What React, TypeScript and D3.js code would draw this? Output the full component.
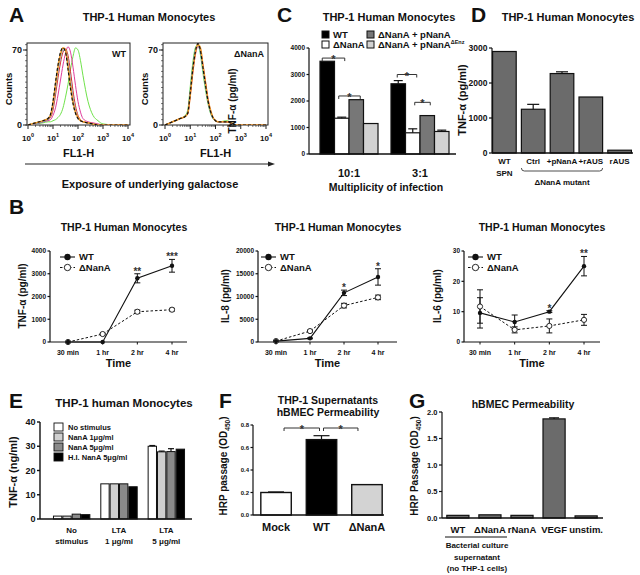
import React from "react";
import * as d3 from "d3";

const FONT = "'Liberation Sans', Arial, Helvetica, sans-serif";

// ---------- Panel A: flow histograms ----------
const histLogX = [0, 0.3, 0.6, 0.8, 0.9, 1.0, 1.1, 1.2, 1.3, 1.4, 1.5, 1.6, 1.7, 1.8, 1.9, 2.0, 2.1, 2.2, 2.4, 2.6, 2.8, 3.0, 3.5, 4.0];
const wtHistBlack = [0, 2, 4, 6, 10, 22, 40, 56, 68, 72, 68, 52, 34, 20, 11, 6, 4, 3, 2, 1, 0, 0, 0, 0];
const wtHistOrange = [0, 2, 4, 6, 9, 20, 37, 54, 66, 72, 70, 55, 37, 22, 12, 7, 4, 3, 2, 1, 0, 0, 0, 0];
const wtHistBlue = [0, 1, 3, 5, 8, 17, 33, 50, 63, 70, 70, 60, 42, 26, 14, 7, 4, 3, 2, 1, 0, 0, 0, 0];
const wtHistRed = [0, 1, 3, 5, 7, 14, 28, 44, 58, 68, 71, 65, 50, 32, 18, 9, 5, 3, 2, 1, 0, 0, 0, 0];
const wtHistMagenta = [0, 1, 3, 4, 5, 9, 16, 28, 42, 56, 67, 73, 68, 54, 37, 22, 12, 6, 3, 2, 1, 0, 0, 0];
const wtHistGreen = [0, 1, 2, 3, 3, 4, 5, 7, 10, 16, 26, 38, 52, 64, 72, 70, 60, 46, 22, 9, 4, 1, 0, 0];
const dnHistBlack = [0, 3, 6, 8, 11, 30, 52, 68, 76, 70, 54, 38, 23, 13, 7, 4, 3, 3, 3, 2, 0, 0, 0, 0];
const dnHistOrange = [0, 3, 6, 8, 11, 28, 50, 67, 75, 72, 56, 40, 24, 14, 7, 4, 3, 3, 3, 2, 0, 0, 0, 0];
const dnHistBlue = [0, 3, 6, 8, 12, 32, 54, 70, 74, 68, 52, 36, 22, 12, 6, 4, 3, 3, 3, 2, 0, 0, 0, 0];
const dnHistRed = [0, 3, 6, 8, 11, 29, 51, 68, 74, 70, 55, 39, 23, 13, 7, 4, 3, 3, 3, 2, 0, 0, 0, 0];
const dnHistMagenta = [0, 3, 6, 8, 10, 27, 48, 65, 73, 71, 57, 41, 25, 14, 7, 4, 3, 3, 3, 2, 0, 0, 0, 0];
const dnHistGreen = [0, 3, 6, 9, 14, 36, 58, 72, 75, 66, 49, 33, 20, 11, 6, 4, 3, 3, 4, 3, 0, 0, 0, 0];
const histDecades = [0, 1, 2, 3, 4];

// ---------- Panel C ----------
const cGroups = ["10:1", "3:1"];
const cSeries = ["WT", "ΔNanA", "ΔNanA + pNanA", "ΔNanA + pNanAΔEnz"];
const cWT = [3500, 2650];
const cWTErr = [0, 120];
const cDelta = [1350, 800];
const cDeltaErr = [40, 150];
const cPNanA = [2050, 1450];
const cPNanAErr = [0, 0];
const cEnz = [1150, 850];
const cEnzErr = [0, 50];
const cTicks = [0, 1000, 2000, 3000, 4000];

// ---------- Panel D ----------
const dCats = ["WT SPN", "Ctrl", "+pNanA", "+rAUS", "rAUS"];
const dVals = [2900, 1250, 2270, 1600, 80];
const dErr = [0, 140, 50, 0, 0];
const dTicks = [0, 1000, 2000, 3000];

// ---------- Panel B ----------
const times = ["30 min", "1 hr", "2 hr", "4 hr"];
const tnfWT = [0, 0, 2800, 3350];
const tnfWTErr = [0, 0, 200, 280];
const tnfDelta = [0, 350, 1330, 1420];
const tnfDeltaErr = [0, 30, 70, 60];
const tnfStars = ["", "", "**", "***"];
const il8WT = [200, 800, 10800, 14300];
const il8WTErr = [100, 100, 600, 1800];
const il8Delta = [200, 2400, 8000, 9800];
const il8DeltaErr = [100, 200, 500, 500];
const il8Stars = ["", "", "*", "*"];
const il6WT = [9.6, 6.6, 10, 25];
const il6WTErr = [5, 2.3, 0.3, 3.2];
const il6Delta = [11.7, 4.0, 5.3, 7.3];
const il6DeltaErr = [5.5, 1.0, 2.3, 1.8];
const il6Stars = ["", "", "*", "**"];

// ---------- Panel E ----------
const eGroups = [["No", "stimulus"], ["LTA", "1 μg/ml"], ["LTA", "5 μg/ml"]];
const eSeries = ["No stimulus", "NanA 1μg/ml", "NanA 5μg/ml", "H.I. NanA 5μg/ml"];
const eNone = [1.2, 14.5, 30.0];
const eNoneErr = [0, 0, 0.3];
const eNanA1 = [1.2, 14.5, 27.7];
const eNanA1Err = [0, 0, 0.3];
const eNanA5 = [2.0, 14.5, 27.8];
const eNanA5Err = [0, 0, 1.2];
const eHI = [1.8, 13.3, 28.8];
const eHIErr = [0, 0, 0];
const eTicks = [0, 10, 20, 30, 40];

// ---------- Panel F ----------
const fCats = ["Mock", "WT", "ΔNanA"];
const fVals = [0.2, 0.67, 0.27];
const fErr = [0.005, 0.035, 0];
const fTicks = [0, 0.2, 0.4, 0.6, 0.8];

// ---------- Panel G ----------
const gCats = ["WT", "ΔNanA", "rNanA", "VEGF", "unstim."];
const gVals = [0.05, 0.06, 0.05, 1.87, 0.04];
const gErr = [0, 0, 0, 0.02, 0];
const gTicks = [0, 0.5, 1.0, 1.5, 2.0];

// ---------- helpers ----------
const T = (p: any) => <text fontFamily={FONT} fontWeight="bold" fill="#111" {...p} />;

const Rot = ({ x, y, fs, children }: any) => (
  <text transform={`translate(${x},${y}) rotate(-90)`} textAnchor="middle" dy="0.35em"
    fontSize={fs} fontWeight="bold" fontFamily={FONT} fill="#111">{children}</text>
);

function YAxis({ scale, x, ticks, fmt, fs, tl = 3, sw = 1.2 }: any) {
  const r = scale.range();
  return (
    <g>
      <line x1={x} x2={x} y1={r[0]} y2={r[1]} stroke="#111" strokeWidth={sw} />
      {ticks.map((t: number) => (
        <g key={t}>
          <line x1={x - tl} x2={x} y1={scale(t)} y2={scale(t)} stroke="#111" strokeWidth={sw} />
          <T x={x - tl - 1.5} y={scale(t)} dy="0.35em" textAnchor="end" fontSize={fs}>{fmt(t)}</T>
        </g>
      ))}
    </g>
  );
}

function ErrUp({ cx, y0, y1, w }: any) {
  if (Math.abs(y0 - y1) < 0.5) return null;
  return (
    <g stroke="#111" strokeWidth={1.2}>
      <line x1={cx} x2={cx} y1={y0} y2={y1} />
      <line x1={cx - w / 2} x2={cx + w / 2} y1={y1} y2={y1} />
    </g>
  );
}

function Bracket({ xa, xb, y, star = "*" }: any) {
  return (
    <g>
      <path d={`M${xa},${y + 3}V${y}H${xb}V${y + 3}`} fill="none" stroke="#333" strokeWidth={1} />
      <T x={(xa + xb) / 2} y={y + 5} textAnchor="middle" fontSize={11} fill="#333">{star}</T>
    </g>
  );
}

// ---------- Panel A ----------
function Histogram({ boxL, boxR, x0, x1, curves, tag }: any) {
  const top = 43, bottom = 125;
  const x = d3.scaleLinear().domain([0, 4]).range([x0, x1]);
  const y = d3.scaleLinear().domain([0, 70]).range([bottom, 50]);
  const line = d3.line<number>().x((_, i) => x(histLogX[i])).y((d) => y(d)).curve(d3.curveMonotoneX);
  const id = `clip${boxL}`;
  const minorX: number[] = [];
  histDecades.slice(0, 4).forEach((dec) => d3.range(2, 10).forEach((k) => minorX.push(dec + Math.log10(k))));
  const minorY = d3.range(0, 76, 5);
  return (
    <g>
      <clipPath id={id}><rect x={boxL} y={top} width={boxR - boxL} height={bottom - top} /></clipPath>
      <rect x={boxL} y={top} width={boxR - boxL} height={bottom - top} fill="none" stroke="#222" strokeWidth={1} />
      <g clipPath={`url(#${id})`}>
        {curves.map((c: any, i: number) => (
          <path key={i} d={line(c.counts) || ""} fill="none" stroke={c.color} strokeWidth={c.w || 1}
            strokeDasharray={c.dash || null} />
        ))}
      </g>
      {minorY.map((v) => (
        <line key={v} x1={boxL - 2} x2={boxL} y1={y(v)} y2={y(v)} stroke="#222" strokeWidth={0.6} />
      ))}
      <line x1={boxL - 4} x2={boxL} y1={y(70)} y2={y(70)} stroke="#222" />
      <line x1={boxL - 4} x2={boxL} y1={y(0)} y2={y(0)} stroke="#222" />
      {minorX.map((v, i) => (
        <line key={i} x1={x(v)} x2={x(v)} y1={bottom} y2={bottom + 2} stroke="#222" strokeWidth={0.6} />
      ))}
      {histDecades.map((d) => (
        <g key={d}>
          <line x1={x(d)} x2={x(d)} y1={bottom} y2={bottom + 4} stroke="#222" />
          <T x={x(d)} y={141} textAnchor="middle" fontSize={8}>10<tspan fontSize={5.5} dy={-4}>{d}</tspan></T>
        </g>
      ))}
      <T x={boxL - 5} y={y(70)} dy="0.35em" textAnchor="end" fontSize={9}>70</T>
      <T x={boxL - 5} y={y(0)} dy="0.35em" textAnchor="end" fontSize={9}>0</T>
      <Rot x={boxL - 18} y={89} fs={9.5}>Counts</Rot>
      <T x={(boxL + boxR) / 2} y={157} textAnchor="middle" fontSize={11}>FL1-H</T>
      <T x={boxR - 4} y={57} textAnchor="end" fontSize={9}>{tag}</T>
    </g>
  );
}

const histColors = { black: "#111", orange: "#f09a28", blue: "#5fa8e0", red: "#d62b2b", magenta: "#e03c9c", green: "#6fe24a" };
const mkCurves = (bk: number[], or: number[], bl: number[], rd: number[], mg: number[], gr: number[]) => [
  { counts: gr, color: histColors.green },
  { counts: mg, color: histColors.magenta },
  { counts: rd, color: histColors.red },
  { counts: bl, color: histColors.blue },
  { counts: or, color: histColors.orange, w: 1.6 },
  { counts: bk, color: histColors.black, dash: "3,2", w: 1.2 },
];

function PanelA() {
  return (
    <g>
      <T x={9} y={22} fontSize={21}>A</T>
      <T x={149} y={21} textAnchor="middle" fontSize={11}>THP-1 Human Monocytes</T>
      <Histogram boxL={27} boxR={130} x0={28} x1={128} tag="WT"
        curves={mkCurves(wtHistBlack, wtHistOrange, wtHistBlue, wtHistRed, wtHistMagenta, wtHistGreen)} />
      <Histogram boxL={163} boxR={268} x0={165} x1={266} tag="ΔNanA"
        curves={mkCurves(dnHistBlack, dnHistOrange, dnHistBlue, dnHistRed, dnHistMagenta, dnHistGreen)} />
      <line x1={25} x2={269} y1={164} y2={164} stroke="#222" strokeWidth={1} />
      <polygon points="268,161.5 275,164 268,166.5" fill="#222" />
      <T x={150} y={188} textAnchor="middle" fontSize={11}>Exposure of underlying galactose</T>
    </g>
  );
}

// ---------- Panel C ----------
function PanelC() {
  const y = d3.scaleLinear().domain([0, 4000]).range([154, 48]);
  const gx = d3.scaleBand().domain(cGroups).range([313.5, 455.5]).paddingInner(0.183).paddingOuter(0.0915);
  const sx = d3.scaleBand().domain(cSeries).range([0, gx.bandwidth()]);
  const fills = ["#000", "#fff", "#777", "#d2d2d2"];
  const vals = [cWT, cDelta, cPNanA, cEnz];
  const errs = [cWTErr, cDeltaErr, cPNanAErr, cEnzErr];
  const cx = (g: number, s: number) => (gx(cGroups[g]) as number) + (sx(cSeries[s]) as number) + sx.bandwidth() / 2;
  return (
    <g>
      <T x={277} y={22} fontSize={21}>C</T>
      <T x={389} y={21} textAnchor="middle" fontSize={11}>THP-1 Human Monocytes</T>
      {cSeries.map((s, i) => {
        const lx = i === 0 || i === 1 ? 322 : 367;
        const ly = i === 0 || i === 2 ? 31 : 41;
        return (
          <g key={s}>
            <rect x={lx} y={ly} width={7} height={7} fill={fills[i]} stroke="#111" strokeWidth={1} />
            {i === 3 ? (
              <T x={lx + 11} y={ly + 7} fontSize={9.5}>ΔNanA + pNanA<tspan fontSize={5.5} dy={-4}>ΔEnz</tspan></T>
            ) : (
              <T x={lx + 11} y={ly + 7} fontSize={9.5}>{s}</T>
            )}
          </g>
        );
      })}
      {cGroups.map((g, gi) =>
        cSeries.map((s, si) => {
          const x0 = (gx(g) as number) + (sx(s) as number);
          const v = vals[si][gi];
          return (
            <g key={g + s}>
              <rect x={x0} y={y(v)} width={sx.bandwidth()} height={y(0) - y(v)} fill={fills[si]} stroke="#111" strokeWidth={1.2} />
              <ErrUp cx={x0 + sx.bandwidth() / 2} y0={y(v)} y1={y(v + errs[si][gi])} w={9} />
            </g>
          );
        })
      )}
      <YAxis scale={y} x={309} ticks={cTicks} fmt={(t: number) => String(t)} fs={6.5} tl={2.5} />
      <line x1={309} x2={456} y1={154} y2={154} stroke="#111" strokeWidth={1.4} />
      <Bracket xa={cx(0, 0) - 5} xb={cx(0, 1) + 3} y={y(3620)} />
      <Bracket xa={cx(0, 1) - 3} xb={cx(0, 2) + 4} y={y(2190)} />
      <Bracket xa={cx(1, 0) - 1} xb={cx(1, 1) + 4} y={y(3000)} />
      <Bracket xa={cx(1, 1) + 2} xb={cx(1, 2) + 3} y={y(1950)} />
      {cGroups.map((g) => (
        <T key={g} x={(gx(g) as number) + gx.bandwidth() / 2} y={177} textAnchor="middle" fontSize={11}>{g}</T>
      ))}
      <Rot x={232} y={101} fs={10}>TNF-α (pg/ml)</Rot>
      <T x={386} y={191} textAnchor="middle" fontSize={10.5}>Multiplicity of infection</T>
    </g>
  );
}

// ---------- Panel D ----------
function PanelD() {
  const y = d3.scaleLinear().domain([0, 3000]).range([153, 48]);
  const x = d3.scaleBand().domain(dCats).range([490, 634]).paddingInner(0.18).paddingOuter(0.09);
  const c = (k: string) => (x(k) as number) + x.bandwidth() / 2;
  return (
    <g>
      <T x={471} y={22} fontSize={21}>D</T>
      <T x={568} y={21} textAnchor="middle" fontSize={11}>THP-1 Human Monocytes</T>
      {dCats.map((k, i) => (
        <g key={k}>
          <rect x={x(k)} y={y(dVals[i])} width={x.bandwidth()} height={y(0) - y(dVals[i])} fill="#6b6b6b" stroke="#111" strokeWidth={1.2} />
          <ErrUp cx={c(k)} y0={y(dVals[i])} y1={y(dVals[i] + dErr[i])} w={12} />
        </g>
      ))}
      <YAxis scale={y} x={492} ticks={dTicks} fmt={(t: number) => String(t)} fs={8.5} tl={3} />
      <line x1={492} x2={633} y1={153} y2={153} stroke="#111" strokeWidth={1.4} />
      <T x={c("WT SPN")} y={163.5} textAnchor="middle" fontSize={8}>WT</T>
      <T x={c("WT SPN")} y={176} textAnchor="middle" fontSize={8}>SPN</T>
      {dCats.slice(1).map((k) => (
        <T key={k} x={c(k)} y={163.5} textAnchor="middle" fontSize={8}>{k}</T>
      ))}
      <path d={`M${x("Ctrl")},168 Q${x("Ctrl")},171 ${(x("Ctrl") as number) + 3},171 H${(x("+rAUS") as number) + x.bandwidth() - 3} Q${(x("+rAUS") as number) + x.bandwidth()},171 ${(x("+rAUS") as number) + x.bandwidth()},168`}
        fill="none" stroke="#222" strokeWidth={0.8} />
      <T x={c("+pNanA")} y={185} textAnchor="middle" fontSize={8}>ΔNanA mutant</T>
      <Rot x={462} y={100} fs={11}>TNF-α (pg/ml)</Rot>
    </g>
  );
}

// ---------- Panel B ----------
function LineChart({ axisX, axisEnd, p0, p1, yMax, yTicks, wt, wtErr, dl, dlErr, stars, ylabel, ylabelX, title, titleX, legL }: any) {
  const x = d3.scalePoint().domain(times).range([p0, p1]);
  const y = d3.scaleLinear().domain([0, yMax]).range([342, 251]);
  const line = d3.line<number>().x((_, i) => x(times[i]) as number).y((d) => y(d));
  const errBar = (vals: number[], errs: number[], key: string) =>
    vals.map((v, i) => {
      if (errs[i] <= 0) return null;
      const cx = x(times[i]) as number;
      return (
        <g key={key + i} stroke="#111" strokeWidth={1}>
          <line x1={cx} x2={cx} y1={y(v - errs[i])} y2={y(v + errs[i])} />
          <line x1={cx - 3} x2={cx + 3} y1={y(v + errs[i])} y2={y(v + errs[i])} />
          <line x1={cx - 3} x2={cx + 3} y1={y(v - errs[i])} y2={y(v - errs[i])} />
        </g>
      );
    });
  return (
    <g>
      <T x={titleX} y={231} textAnchor="middle" fontSize={10.5}>{title}</T>
      <YAxis scale={y} x={axisX} ticks={yTicks} fmt={(t: number) => String(t)} fs={6.5} tl={2.5} />
      <line x1={axisX} x2={axisEnd} y1={342} y2={342} stroke="#111" strokeWidth={1.2} />
      {times.map((t) => (
        <g key={t}>
          <line x1={x(t)} x2={x(t)} y1={342} y2={344.5} stroke="#111" />
          <T x={x(t)} y={354.5} textAnchor="middle" fontSize={7}>{t}</T>
        </g>
      ))}
      <T x={(axisX + axisEnd) / 2} y={367} textAnchor="middle" fontSize={11}>Time</T>
      <Rot x={ylabelX} y={296} fs={10}>{ylabel}</Rot>
      {errBar(dl, dlErr, "d")}
      {errBar(wt, wtErr, "w")}
      <path d={line(dl) || ""} fill="none" stroke="#111" strokeWidth={1} strokeDasharray="2.5,2" />
      <path d={line(wt) || ""} fill="none" stroke="#111" strokeWidth={1.1} />
      {dl.map((v: number, i: number) => (
        <circle key={"dc" + i} cx={x(times[i])} cy={y(v)} r={2.6} fill="#fff" stroke="#111" strokeWidth={0.9} />
      ))}
      {wt.map((v: number, i: number) => (
        <circle key={"wc" + i} cx={x(times[i])} cy={y(v)} r={2.2} fill="#111" />
      ))}
      {stars.map((s: string, i: number) =>
        s ? (
          <T key={"s" + i} x={x(times[i])} y={y(wt[i] + wtErr[i]) + 1} textAnchor="middle" fontSize={10} fill="#333">{s}</T>
        ) : null
      )}
      <g>
        <line x1={legL} x2={legL + 15} y1={257} y2={257} stroke="#111" strokeWidth={1.1} />
        <circle cx={legL + 7.5} cy={257} r={3.2} fill="#111" />
        <T x={legL + 19} y={257} dy="0.35em" fontSize={9.5}>WT</T>
        <line x1={legL} x2={legL + 15} y1={267.5} y2={267.5} stroke="#111" strokeWidth={1} strokeDasharray="2.5,2" />
        <circle cx={legL + 7.5} cy={267.5} r={3.2} fill="#fff" stroke="#111" strokeWidth={0.9} />
        <T x={legL + 19} y={267.5} dy="0.35em" fontSize={9.5}>ΔNanA</T>
      </g>
    </g>
  );
}

function PanelB() {
  return (
    <g>
      <T x={9} y={214} fontSize={21}>B</T>
      <LineChart axisX={50} axisEnd={187} p0={68} p1={172} yMax={4000} yTicks={[0, 1000, 2000, 3000, 4000]}
        wt={tnfWT} wtErr={tnfWTErr} dl={tnfDelta} dlErr={tnfDeltaErr} stars={tnfStars}
        ylabel="TNF-α (pg/ml)" ylabelX={22} title="THP-1 Human Monocytes" titleX={124} legL={60} />
      <LineChart axisX={258} axisEnd={397} p0={276} p1={378} yMax={20000} yTicks={[0, 5000, 10000, 15000, 20000]}
        wt={il8WT} wtErr={il8WTErr} dl={il8Delta} dlErr={il8DeltaErr} stars={il8Stars}
        ylabel="IL-8 (pg/ml)" ylabelX={225} title="THP-1 Human Monocytes" titleX={338} legL={261} />
      <LineChart axisX={464} axisEnd={600} p0={480} p1={584} yMax={30} yTicks={[0, 10, 20, 30]}
        wt={il6WT} wtErr={il6WTErr} dl={il6Delta} dlErr={il6DeltaErr} stars={il6Stars}
        ylabel="IL-6 (pg/ml)" ylabelX={437} title="THP-1 Human Monocytes" titleX={542} legL={468} />
    </g>
  );
}

// ---------- Panel E ----------
function PanelE() {
  const y = d3.scaleLinear().domain([0, 40]).range([519, 422]);
  const keys = eGroups.map((g) => g.join(" "));
  const gx = d3.scaleBand().domain(keys).range([48, 190]).paddingInner(0.21).paddingOuter(0.105);
  const sx = d3.scaleBand().domain(eSeries).range([0, gx.bandwidth()]);
  const fills = ["#fff", "#cfcfcf", "#8a8a8a", "#000"];
  const vals = [eNone, eNanA1, eNanA5, eHI];
  const errs = [eNoneErr, eNanA1Err, eNanA5Err, eHIErr];
  return (
    <g>
      <T x={9} y={408} fontSize={21}>E</T>
      <T x={124} y={407} textAnchor="middle" fontSize={11.5}>THP-1 human Monocytes</T>
      {keys.map((k, gi) =>
        eSeries.map((s, si) => {
          const x0 = (gx(k) as number) + (sx(s) as number);
          const v = vals[si][gi];
          return (
            <g key={k + s}>
              <rect x={x0 + 0.5} y={y(v)} width={sx.bandwidth() - 1} height={y(0) - y(v)} fill={fills[si]} stroke="#111" strokeWidth={1} />
              <ErrUp cx={x0 + sx.bandwidth() / 2} y0={y(v)} y1={y(v + errs[si][gi])} w={6} />
            </g>
          );
        })
      )}
      <YAxis scale={y} x={40} ticks={eTicks} fmt={(t: number) => String(t)} fs={9} tl={3} sw={1.4} />
      <line x1={40} x2={192} y1={519} y2={519} stroke="#111" strokeWidth={1.4} />
      {eSeries.map((s, i) => (
        <g key={s}>
          <rect x={54} y={423 + i * 10} width={9} height={8} fill={fills[i]} stroke="#111" strokeWidth={0.9} />
          <T x={68} y={427 + i * 10} dy="0.35em" fontSize={7.5}>{s}</T>
        </g>
      ))}
      {eGroups.map((g, i) => (
        <g key={keys[i]}>
          <T x={(gx(keys[i]) as number) + gx.bandwidth() / 2} y={533} textAnchor="middle" fontSize={8}>{g[0]}</T>
          <T x={(gx(keys[i]) as number) + gx.bandwidth() / 2} y={544} textAnchor="middle" fontSize={8}>{g[1]}</T>
        </g>
      ))}
      <Rot x={13} y={472} fs={11}>TNF-α (ng/ml)</Rot>
    </g>
  );
}

// ---------- Panel F ----------
function PanelF() {
  const y = d3.scaleLinear().domain([0, 0.8]).range([515, 425]);
  const x = d3.scaleBand().domain(fCats).range([254, 389]).paddingInner(0.33).paddingOuter(0.15);
  const fills = ["#fff", "#000", "#d3d3d3"];
  const c = (k: string) => (x(k) as number) + x.bandwidth() / 2;
  return (
    <g>
      <T x={219} y={408} fontSize={21}>F</T>
      <T x={328} y={404} textAnchor="middle" fontSize={10.5}>THP-1 Supernatants</T>
      <T x={328} y={416} textAnchor="middle" fontSize={10.5}>hBMEC Permeability</T>
      {fCats.map((k, i) => (
        <g key={k}>
          <rect x={x(k)} y={y(fVals[i])} width={x.bandwidth()} height={y(0) - y(fVals[i])} fill={fills[i]} stroke="#111" strokeWidth={1.4} />
          <ErrUp cx={c(k)} y0={y(fVals[i])} y1={y(fVals[i] + fErr[i])} w={16} />
        </g>
      ))}
      <YAxis scale={y} x={253} ticks={fTicks} fmt={d3.format(".1f")} fs={6} tl={2.5} />
      <line x1={253} x2={384} y1={515} y2={515} stroke="#111" strokeWidth={1.4} />
      <Bracket xa={c("Mock") + 8} xb={c("WT") - 2} y={428} />
      <Bracket xa={c("WT") + 2} xb={c("ΔNanA") - 9} y={428} />
      {fCats.map((k) => (
        <T key={k} x={c(k)} y={531} textAnchor="middle" fontSize={11}>{k}</T>
      ))}
      <Rot x={223} y={466} fs={10}>HRP passage (OD<tspan fontSize={6.5} dy={3}>450</tspan><tspan dy={-3}>)</tspan></Rot>
    </g>
  );
}

// ---------- Panel G ----------
function PanelG() {
  const y = d3.scaleLinear().domain([0, 2.0]).range([518, 412]);
  const x = d3.scaleBand().domain(gCats).range([442, 602]).paddingInner(0.31).paddingOuter(0.15);
  const c = (k: string) => (x(k) as number) + x.bandwidth() / 2;
  return (
    <g>
      <T x={409} y={408} fontSize={21}>G</T>
      <T x={523} y={408} textAnchor="middle" fontSize={10.5}>hBMEC Permeability</T>
      {gCats.map((k, i) => (
        <g key={k}>
          <rect x={x(k)} y={y(gVals[i])} width={x.bandwidth()} height={y(0) - y(gVals[i])} fill="#6b6b6b" stroke="#111" strokeWidth={1.2} />
          <ErrUp cx={c(k)} y0={y(gVals[i])} y1={y(gVals[i] + gErr[i])} w={10} />
        </g>
      ))}
      <YAxis scale={y} x={442} ticks={gTicks} fmt={d3.format(".1f")} fs={7.5} tl={3} />
      <line x1={442} x2={603} y1={518} y2={518} stroke="#111" strokeWidth={1.4} />
      {gCats.map((k) => (
        <T key={k} x={c(k)} y={533} textAnchor="middle" fontSize={9.5}>{k}</T>
      ))}
      <line x1={445} x2={507} y1={537} y2={537} stroke="#111" strokeWidth={1} />
      <T x={477} y={548} textAnchor="middle" fontSize={8}>Bacterial culture</T>
      <T x={477} y={559.5} textAnchor="middle" fontSize={8}>supernatant</T>
      <T x={477} y={571} textAnchor="middle" fontSize={8}>(no THP-1 cells)</T>
      <Rot x={414} y={466} fs={10}>HRP Passage (OD<tspan fontSize={6.5} dy={3}>450</tspan><tspan dy={-3}>)</tspan></Rot>
    </g>
  );
}

export default function App() {
  return (
    <svg width={640} height={575} viewBox="0 0 640 575"
      style={{ position: "absolute", left: 0, top: 0, background: "#fff" }}>
      <rect width={640} height={575} fill="#fff" />
      <PanelA />
      <PanelC />
      <PanelD />
      <PanelB />
      <PanelE />
      <PanelF />
      <PanelG />
    </svg>
  );
}
